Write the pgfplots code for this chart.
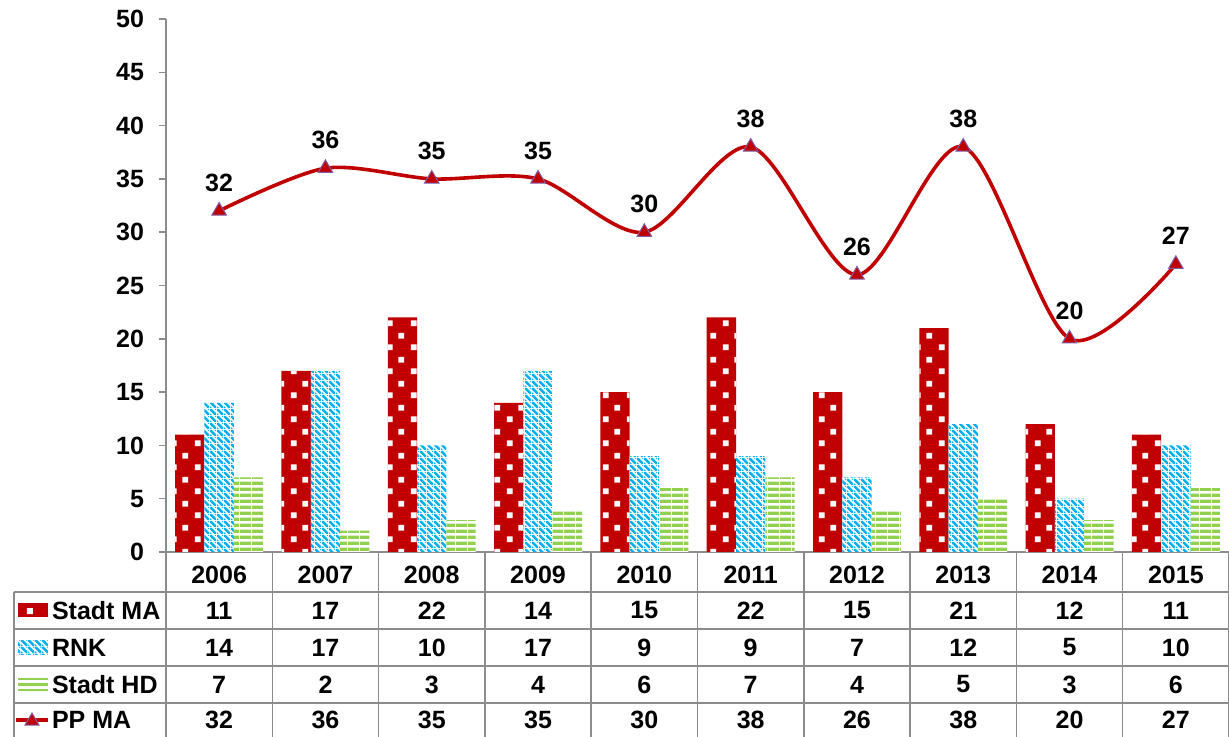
\documentclass[border=0pt]{standalone}
\usepackage{pgfplots}
\pgfplotsset{compat=1.18}
\usepackage{fontspec}
\setmainfont{Liberation Sans}
\usetikzlibrary{patterns}
\definecolor{cred}{HTML}{C00000}
\definecolor{cblue}{HTML}{00B0F0}
\definecolor{cgreen}{HTML}{92D050}
\definecolor{cgrid}{HTML}{8C8C8C}
\definecolor{cmark}{HTML}{7F5FA8}
\newcommand\lbl{\fontsize{12.5}{15}\selectfont\bfseries}
% white squares, staggered
\pgfdeclarepatternformonly{whitesq}{\pgfqpoint{0pt}{0pt}}{\pgfqpoint{12pt}{12pt}}{\pgfqpoint{12pt}{12pt}}{%
  \pgfpathrectangle{\pgfqpoint{1.5pt}{1.5pt}}{\pgfqpoint{3pt}{3pt}}%
  \pgfpathrectangle{\pgfqpoint{7.5pt}{7.5pt}}{\pgfqpoint{3pt}{3pt}}%
  \pgfusepath{fill}}
% downward diagonal stripes
\pgfdeclarepatternformonly{diagdown}{\pgfqpoint{0pt}{0pt}}{\pgfqpoint{3.5pt}{3.5pt}}{\pgfqpoint{3.5pt}{3.5pt}}{%
  \pgfpathmoveto{\pgfqpoint{2.5pt}{0pt}}%
  \pgfpathlineto{\pgfqpoint{3.5pt}{0pt}}%
  \pgfpathlineto{\pgfqpoint{3.5pt}{1pt}}%
  \pgfpathlineto{\pgfqpoint{1pt}{3.5pt}}%
  \pgfpathlineto{\pgfqpoint{0pt}{3.5pt}}%
  \pgfpathlineto{\pgfqpoint{0pt}{2.5pt}}%
  \pgfpathclose
  \pgfpathmoveto{\pgfqpoint{0pt}{0pt}}%
  \pgfpathlineto{\pgfqpoint{1pt}{0pt}}%
  \pgfpathlineto{\pgfqpoint{0pt}{1pt}}%
  \pgfpathclose
  \pgfpathmoveto{\pgfqpoint{3.5pt}{3.5pt}}%
  \pgfpathlineto{\pgfqpoint{2.5pt}{3.5pt}}%
  \pgfpathlineto{\pgfqpoint{3.5pt}{2.5pt}}%
  \pgfpathclose
  \pgfusepath{fill}}
% horizontal stripes
\pgfdeclarepatternformonly{hstripes}{\pgfqpoint{0pt}{0pt}}{\pgfqpoint{6pt}{3.1pt}}{\pgfqpoint{6pt}{3.1pt}}{%
  \pgfpathrectangle{\pgfqpoint{0pt}{0.6pt}}{\pgfqpoint{6pt}{1.8pt}}%
  \pgfusepath{fill}}
\tikzset{
  mabar/.style={fill=cred, draw=none, postaction={pattern=whitesq, pattern color=white}},
  rnkbar/.style={fill=white, draw=none, postaction={pattern=diagdown, pattern color=cblue}},
  hdbar/.style={fill=white, draw=none, postaction={pattern=hstripes, pattern color=cgreen}},
}
\begin{document}
\begin{tikzpicture}
\useasboundingbox (-83pt,-92.5pt) rectangle (531.5pt,276pt);
\begin{axis}[
  at={(0pt,0pt)}, anchor=south west, scale only axis,
  width=531.5pt, height=266.5pt,
  xmin=-0.5, xmax=9.5, ymin=0, ymax=50,
  axis x line*=bottom, axis y line*=left,
  axis line style={cgrid, line width=0.75pt},
  ytick={0,5,...,50},
  xtick={0,...,9},
  xticklabels={2006,2007,2008,2009,2010,2011,2012,2013,2014,2015},
  tick align=outside,
  major tick length=3.5pt,
  y tick style={cgrid, line width=0.75pt},
  x tick style={draw=none},
  tick label style={font=\lbl},
  /pgf/number format/assume math mode=true,
  xticklabel style={anchor=center, yshift=-8pt},
  yticklabel style={xshift=-4pt},
  clip=false,
]
\addplot[ybar, bar width=14.65pt, bar shift=-14.65pt, mabar] coordinates
  {(0,11)(1,17)(2,22)(3,14)(4,15)(5,22)(6,15)(7,21)(8,12)(9,11)};
\addplot[ybar, bar width=14.65pt, bar shift=0pt, rnkbar] coordinates
  {(0,14)(1,17)(2,10)(3,17)(4,9)(5,9)(6,7)(7,12)(8,5)(9,10)};
\addplot[ybar, bar width=14.65pt, bar shift=14.65pt, hdbar] coordinates
  {(0,7)(1,2)(2,3)(3,4)(4,6)(5,7)(6,4)(7,5)(8,3)(9,6)};
\addplot[cred, line width=1.8pt, smooth, mark=triangle*, mark size=4.2pt,
  mark options={fill=cred, draw=cmark, line width=0.5pt},
  nodes near coords,
  every node near coord/.append style={font=\lbl, anchor=center, yshift=14pt, text=black}]
  coordinates {(0,32)(1,36)(2,35)(3,35)(4,30)(5,38)(6,26)(7,38)(8,20)(9,27)};
\end{axis}
% data table
\begin{scope}[cgrid, line width=0.75pt]
  \foreach \y in {-20,-38.5,-57,-75.5} \draw (-76pt,\y pt) -- (531.5pt,\y pt);
  \draw (-76pt,-20pt) -- (-76pt,-92.5pt);
  \foreach \k in {0,...,10} \draw (\k*53.15pt,0pt) -- (\k*53.15pt,-92.5pt);
\end{scope}
\foreach \v [count=\i from 0] in {11,17,22,14,15,22,15,21,12,11}
  \node[font=\lbl] at (\i*53.15pt+26.575pt,-29.25pt) {\v};
\foreach \v [count=\i from 0] in {14,17,10,17,9,9,7,12,5,10}
  \node[font=\lbl] at (\i*53.15pt+26.575pt,-47.75pt) {\v};
\foreach \v [count=\i from 0] in {7,2,3,4,6,7,4,5,3,6}
  \node[font=\lbl] at (\i*53.15pt+26.575pt,-66.25pt) {\v};
\foreach \v [count=\i from 0] in {32,36,35,35,30,38,26,38,20,27}
  \node[font=\lbl] at (\i*53.15pt+26.575pt,-84pt) {\v};
\node[font=\lbl, anchor=west] at (-60.5pt,-29.25pt) {Stadt MA};
\node[font=\lbl, anchor=west] at (-60.5pt,-47.75pt) {RNK};
\node[font=\lbl, anchor=west] at (-60.5pt,-66.25pt) {Stadt HD};
\node[font=\lbl, anchor=west] at (-60.5pt,-84pt) {PP MA};
% legend keys
\path[mabar] (-74pt,-32.75pt) rectangle (-59pt,-25.75pt);
\path[rnkbar] (-74pt,-51.25pt) rectangle (-59pt,-44.25pt);
\foreach \d in {-2.7,0,2.7} \draw[cgreen, line width=1.3pt] (-74pt,-66.25pt+\d pt) -- (-59pt,-66.25pt+\d pt);
\draw[cred, line width=2pt] (-75pt,-84pt) -- (-59pt,-84pt);
\filldraw[fill=cred, draw=cmark, line width=0.5pt] (-67pt,-80.5pt) -- (-63.5pt,-86.5pt) -- (-70.5pt,-86.5pt) -- cycle;
\end{tikzpicture}
\end{document}
